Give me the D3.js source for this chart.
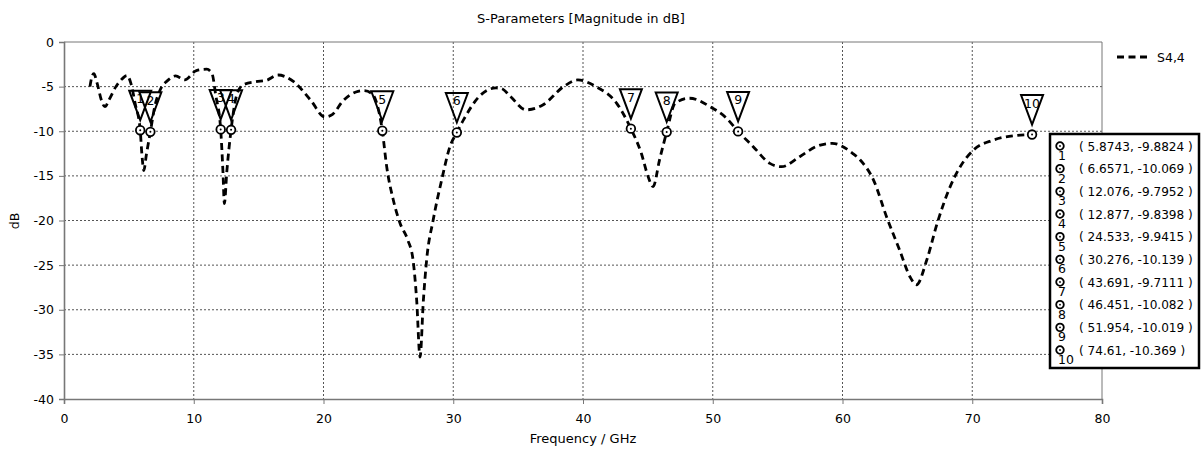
<!DOCTYPE html>
<html>
<head>
<meta charset="utf-8">
<script src="https://cdn.jsdelivr.net/npm/d3@7"></script>
<style>
  body { margin: 0; background: #fff; }
  text { font-family: "DejaVu Sans", Verdana, sans-serif; fill: #000; }
</style>
</head>
<body>
<svg id="chart" width="1203" height="451"></svg>
<script>
'use strict';

// S4,4 trace (GHz, dB)
const freq = [2.0, 2.15, 2.3, 2.55, 2.9, 3.15, 3.5, 4.0, 4.5, 4.85, 5.15, 5.5, 5.8743, 6.0, 6.15, 6.35, 6.6571,
  7.0, 7.4, 8.0, 8.6, 9.3, 10.2, 11.0, 11.4, 11.7, 12.076, 12.25, 12.36, 12.55, 12.877, 13.3, 13.8, 14.8, 15.6,
  16.5, 17.7, 19.0, 20.1, 20.7, 21.5, 22.5, 23.1, 23.7, 24.533, 24.87, 25.38, 25.9, 26.5, 26.9, 27.18, 27.44,
  27.7, 27.95, 28.46, 29.1, 29.75, 30.276, 30.8, 32.0, 33.3, 33.7, 34.4, 35.6, 36.9, 38.5, 39.6, 41.0, 42.6,
  43.691, 44.5, 45.0, 45.4, 45.9, 46.451, 47.1, 48.2, 49.8, 51.07, 51.954, 53.1, 54.4, 55.3, 56.7, 58.0, 59.2,
  60.8, 61.35, 62.4, 63.4, 64.4, 65.2, 65.7, 66.5, 67.3, 68.3, 69.06, 70.1, 71.6, 73.2, 74.61];
const s44 = [-5.0, -3.9, -3.55, -4.6, -6.6, -7.25, -6.4, -5.0, -4.1, -3.75, -4.6, -7.0, -9.8824, -12.5, -14.4, -12.6, -10.069,
  -7.2, -5.4, -4.3, -3.8, -4.25, -3.2, -3.05, -3.5, -6.0, -9.7952, -14.5, -18.1, -14.5, -9.8398, -6.0, -4.8, -4.45, -4.3,
  -3.7, -4.45, -6.5, -8.4, -8.1, -6.6, -5.6, -5.45, -5.75, -9.9415, -13.97, -17.7, -20.3, -22.2, -24.4, -28.9, -35.3,
  -28.9, -24.4, -19.9, -15.5, -11.7, -10.139, -8.7, -6.1, -5.15, -5.2, -6.1, -7.6, -7.06, -5.0, -4.25, -5.0, -6.87,
  -9.7111, -12.5, -15.0, -16.2, -13.2, -10.082, -6.87, -6.3, -7.25, -8.55, -10.019, -11.7, -13.6, -13.97, -12.85, -11.7, -11.35,
  -12.5, -13.2, -15.5, -19.6, -23.3, -26.3, -27.2, -24.4, -20.3, -16.2, -14.0, -12.1, -11.0, -10.5, -10.369];

// markers
const markerIds = ['1', '2', '3', '4', '5', '6', '7', '8', '9', '10'];
const markerFreq = [5.8743, 6.6571, 12.076, 12.877, 24.533, 30.276, 43.691, 46.451, 51.954, 74.61];
const markerDb = [-9.8824, -10.069, -9.7952, -9.8398, -9.9415, -10.139, -9.7111, -10.082, -10.019, -10.369];
const markerText = ['( 5.8743, -9.8824 )', '( 6.6571, -10.069 )', '( 12.076, -9.7952 )', '( 12.877, -9.8398 )',
  '( 24.533, -9.9415 )', '( 30.276, -10.139 )', '( 43.691, -9.7111 )', '( 46.451, -10.082 )',
  '( 51.954, -10.019 )', '( 74.61, -10.369 )'];

const xTicks = [0, 10, 20, 30, 40, 50, 60, 70, 80];
const yTicks = [0, -5, -10, -15, -20, -25, -30, -35, -40];

const svg = d3.select('#chart');
const plotL = 64, plotR = 1102, plotT = 42, plotB = 399;

const x = d3.scaleLinear().domain([0, 80]).range([plotL, plotR]);
const y = d3.scaleLinear().domain([-40, 0]).range([plotB, plotT]);

// title
svg.append('text')
  .attr('x', 581).attr('y', 23)
  .attr('text-anchor', 'middle')
  .style('font-size', '13px')
  .text('S-Parameters [Magnitude in dB]');

// grid
const grid = svg.append('g').attr('class', 'grid');
grid.selectAll('line.hg')
  .data(yTicks.filter(t => t !== 0 && t !== -40))
  .enter().append('line')
    .attr('x1', plotL).attr('x2', plotR)
    .attr('y1', d => y(d)).attr('y2', d => y(d))
    .attr('stroke', '#555').attr('stroke-dasharray', '2,2');
grid.selectAll('line.vg')
  .data(xTicks.filter(t => t !== 0 && t !== 80))
  .enter().append('line')
    .attr('x1', d => x(d)).attr('x2', d => x(d))
    .attr('y1', plotT).attr('y2', plotB)
    .attr('stroke', '#555').attr('stroke-dasharray', '2,2');

// frame (top / right)
svg.append('line').attr('x1', plotL).attr('x2', plotR).attr('y1', plotT).attr('y2', plotT)
  .attr('stroke', '#777').attr('stroke-width', 1);
svg.append('line').attr('x1', plotR).attr('x2', plotR).attr('y1', plotT).attr('y2', plotB)
  .attr('stroke', '#777').attr('stroke-width', 1);

// axes
const xAxis = svg.append('g')
  .attr('transform', `translate(0,${plotB})`)
  .call(d3.axisBottom(x).tickValues(xTicks).tickSize(5).tickPadding(10).tickFormat(d3.format('d')));
const yAxis = svg.append('g')
  .attr('transform', `translate(${plotL},0)`)
  .call(d3.axisLeft(y).tickValues(yTicks).tickSize(5).tickPadding(5).tickFormat(d => d === 0 ? '0' : '-' + Math.abs(d)));

[xAxis, yAxis].forEach(a => {
  a.select('.domain').attr('stroke', '#777').attr('stroke-width', 1.6);
  a.selectAll('.tick line').attr('stroke', '#777');
  a.selectAll('.tick text').style('font-size', '12.5px').style('font-family', '"DejaVu Sans", Verdana, sans-serif').attr('fill', '#000');
});

svg.append('text')
  .attr('x', 583).attr('y', 443)
  .attr('text-anchor', 'middle')
  .style('font-size', '13px')
  .text('Frequency / GHz');

svg.append('text')
  .attr('transform', 'translate(19,221) rotate(-90)')
  .attr('text-anchor', 'middle')
  .style('font-size', '12.5px')
  .text('dB');

// trace
const pts = freq.map((f, i) => [f, s44[i]]);
const line = d3.line()
  .x(d => x(d[0]))
  .y(d => y(d[1]))
  .curve(d3.curveMonotoneX);

svg.append('path')
  .datum(pts)
  .attr('d', line)
  .attr('fill', 'none')
  .attr('stroke', '#000')
  .attr('stroke-width', 2.8)
  .attr('stroke-dasharray', '7,4.5');

// marker triangles and rings
const markers = markerIds.map((id, i) => ({ id, f: markerFreq[i], db: markerDb[i], txt: markerText[i] }));
const mk = svg.append('g').selectAll('g.marker')
  .data(markers)
  .enter().append('g')
    .attr('class', 'marker')
    .attr('transform', d => `translate(${x(d.f)},${y(d.db)})`);

mk.append('path')
  .attr('d', 'M-11,-39.5 L11,-39.5 L0,-10 Z')
  .attr('fill', 'none')
  .attr('stroke', '#000')
  .attr('stroke-width', 2);
mk.append('text')
  .attr('x', 0).attr('y', -27)
  .attr('text-anchor', 'middle')
  .style('font-size', '12.5px')
  .attr('fill', '#1a1a1a')
  .text(d => d.id);
mk.append('circle')
  .attr('r', 4.3)
  .attr('fill', '#fff')
  .attr('stroke', '#000')
  .attr('stroke-width', 1.8);
mk.append('circle')
  .attr('r', 1)
  .attr('fill', '#000');

// legend
svg.append('line')
  .attr('x1', 1117).attr('x2', 1148).attr('y1', 57).attr('y2', 57)
  .attr('stroke', '#000').attr('stroke-width', 2.8).attr('stroke-dasharray', '7,4.5');
svg.append('text')
  .attr('x', 1157).attr('y', 61.5)
  .style('font-size', '12.5px')
  .text('S4,4');

// marker readout box
const box = svg.append('g');
box.append('rect')
  .attr('x', 1050).attr('y', 134)
  .attr('width', 149).attr('height', 234)
  .attr('fill', '#fff')
  .attr('stroke', '#000')
  .attr('stroke-width', 2.5);

const rowY = d3.scaleLinear().domain([0, 9]).range([146, 350]);
const row = box.selectAll('g.row')
  .data(markers)
  .enter().append('g')
    .attr('class', 'row')
    .attr('transform', (d, i) => `translate(1060,${rowY(i)})`);
row.append('circle')
  .attr('r', 3.8)
  .attr('fill', '#fff')
  .attr('stroke', '#000')
  .attr('stroke-width', 1.8);
row.append('circle')
  .attr('r', 0.9)
  .attr('fill', '#000');
row.append('text')
  .attr('x', -2).attr('y', 14)
  .style('font-size', '12.5px')
  .text(d => d.id);
row.append('text')
  .attr('x', 19).attr('y', 4.5)
  .style('font-size', '12.1px')
  .text(d => d.txt);
</script>
</body>
</html>
